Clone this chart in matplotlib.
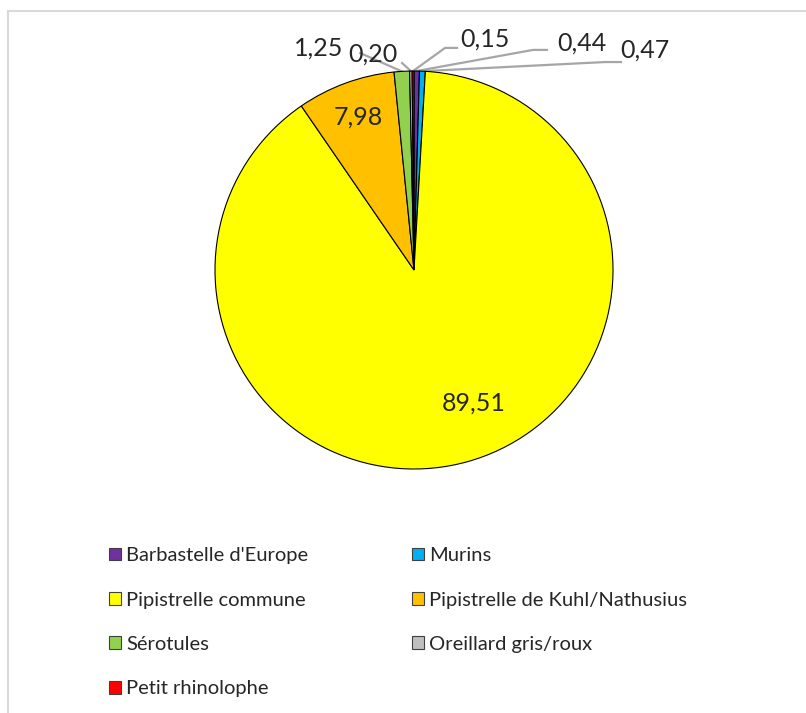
"""Pie chart: share of bat contacts per species group (%)."""

import numpy as np
import matplotlib.pyplot as plt
from matplotlib.lines import Line2D
from matplotlib.patches import Patch

plt.rcParams["font.family"] = ["Lato", "DejaVu Sans"]

species = ["Barbastelle d'Europe", "Murins", "Pipistrelle commune",
           "Pipistrelle de Kuhl/Nathusius", "Sérotules", "Oreillard gris/roux",
           "Petit rhinolophe"]
share = [0.44, 0.47, 89.51, 7.98, 1.25, 0.20, 0.15]
labels = ["0,44", "0,47", "89,51", "7,98", "1,25", "0,20", "0,15"]
colors = ["#7030A0", "#00B0F0", "#FFFF00", "#FFC000", "#92D050", "#BFBFBF", "#FF0000"]

# label placement (axes data units, radius = 1): text centre, leader points
label_pos = {
    "89,51": ((0.30, -0.67), []),
    "7,98": ((-0.28, 0.77), []),
    "1,25": ((-0.48, 1.115), [(-0.27, 1.09)]),
    "0,20": ((-0.206, 1.085), [(-0.06, 1.04)]),
    "0,15": ((0.357, 1.16), [(0.156, 1.116), (0.216, 1.116)]),
    "0,44": ((0.844, 1.14), [(0.598, 1.106), (0.668, 1.106)]),
    "0,47": ((1.16, 1.105), [(0.96, 1.045), (1.04, 1.045)]),
}

fig = plt.figure(figsize=(8.06, 7.13), dpi=100)
cx, cy, r = 414, 270, 199
W, H = 806, 713
ax = fig.add_axes([(cx - r) / W, (H - cy - r) / H, 2 * r / W, 2 * r / H])

wedges, _ = ax.pie(share, colors=colors, startangle=90, counterclock=False,
                   radius=1, wedgeprops=dict(edgecolor="black", linewidth=0.8))
ax.set_xlim(-1, 1)
ax.set_ylim(-1, 1)
ax.set_aspect("equal")
ax.axis("off")

for w, lab in zip(wedges, labels):
    (tx, ty), pts = label_pos[lab]
    ax.text(tx, ty, lab, ha="center", va="center", fontsize=18,
            color="#262626", clip_on=False)
    if not pts:
        continue
    ang = np.deg2rad((w.theta1 + w.theta2) / 2)
    xs = [np.cos(ang)] + [p[0] for p in pts]
    ys = [np.sin(ang)] + [p[1] for p in pts]
    ax.plot(xs, ys, color="#A6A6A6", lw=1.6, clip_on=False, zorder=0.5)

# legend, row-major with 2 columns
order = [0, 2, 4, 6, 1, 3, 5]
handles = [Patch(facecolor=colors[i], edgecolor="#404040", linewidth=0.8) for i in order]
fig.legend(handles, [species[i] for i in order], ncol=2, frameon=False,
           loc="upper left", bbox_to_anchor=(91 / W, 1 - 529 / H),
           fontsize=14.5, handlelength=0.6, handleheight=0.6, handletextpad=0.25,
           labelspacing=1.36, columnspacing=5.15, labelcolor="#262626")

# chart frame
fig.add_artist(Line2D([8 / W, 8 / W], [0, 1 - 11 / H], color="#D9D9D9", lw=1.5))
fig.add_artist(Line2D([8 / W, 1], [1 - 11 / H, 1 - 11 / H], color="#D9D9D9", lw=1.5))

fig.savefig("out.png", dpi=100)
